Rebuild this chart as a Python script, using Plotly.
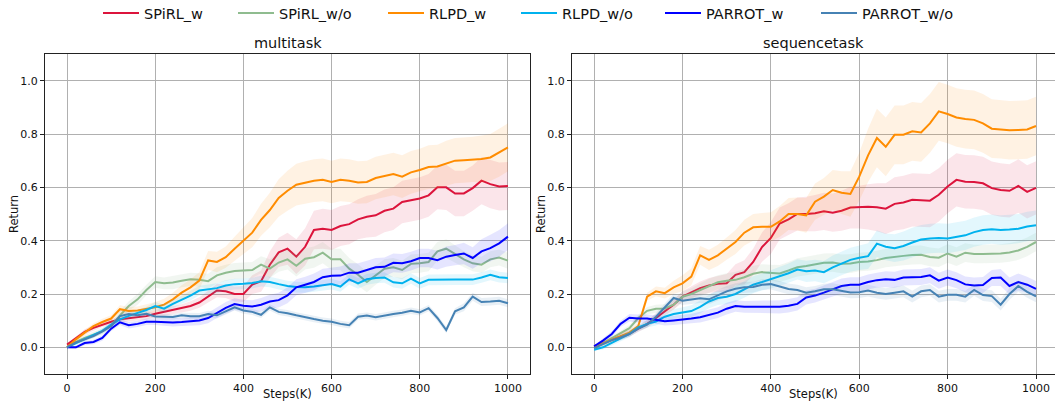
import plotly.graph_objects as go

steps = list(range(0, 1001, 20))

# ---------------- multitask ----------------
spirl_w_m = [0.01, 0.033, 0.058, 0.073, 0.086, 0.096, 0.105, 0.109, 0.112, 0.117,
             0.126, 0.133, 0.139, 0.146, 0.155, 0.168, 0.19, 0.213, 0.21, 0.2,
             0.2, 0.235, 0.248, 0.31, 0.356, 0.37, 0.34, 0.377, 0.44, 0.445,
             0.44, 0.455, 0.462, 0.48, 0.49, 0.495, 0.512, 0.52, 0.545, 0.552,
             0.558, 0.57, 0.6, 0.6, 0.577, 0.577, 0.597, 0.625, 0.612, 0.603,
             0.605]
spirl_wo_m = [0.0, 0.02, 0.035, 0.048, 0.06, 0.08, 0.12, 0.155, 0.18, 0.215,
              0.245, 0.24, 0.243, 0.25, 0.255, 0.253, 0.248, 0.27, 0.28, 0.286,
              0.287, 0.29, 0.31, 0.295, 0.318, 0.33, 0.306, 0.332, 0.338, 0.355,
              0.33, 0.33, 0.295, 0.272, 0.245, 0.27, 0.295, 0.3, 0.29, 0.313,
              0.315, 0.32, 0.36, 0.37, 0.35, 0.33, 0.315, 0.31, 0.33, 0.337,
              0.325]
rlpd_w_m = [0.0, 0.03, 0.055, 0.08, 0.095, 0.108, 0.143, 0.136, 0.138, 0.143,
            0.15, 0.16, 0.18, 0.205, 0.225, 0.25, 0.326, 0.32, 0.338, 0.37,
            0.4, 0.43, 0.478, 0.515, 0.56, 0.587, 0.61, 0.618, 0.625, 0.628,
            0.62, 0.628, 0.625, 0.618, 0.62, 0.635, 0.642, 0.65, 0.64, 0.656,
            0.665, 0.676, 0.678, 0.69, 0.7, 0.702, 0.705, 0.706, 0.712, 0.73,
            0.75]
rlpd_wo_m = [0.0, 0.015, 0.03, 0.045, 0.062, 0.085, 0.105, 0.118, 0.13, 0.14,
             0.155, 0.145, 0.163, 0.178, 0.194, 0.213, 0.218, 0.222, 0.232, 0.237,
             0.238, 0.241, 0.248, 0.245, 0.237, 0.23, 0.226, 0.225, 0.228, 0.233,
             0.237, 0.228, 0.255, 0.24, 0.255, 0.26, 0.262, 0.244, 0.24, 0.258,
             0.24, 0.253, 0.254, 0.254, 0.254, 0.254, 0.254, 0.262, 0.272, 0.263,
             0.26]
parrot_w_m = [0.0, 0.0, 0.016, 0.02, 0.035, 0.07, 0.094, 0.083, 0.088, 0.096,
              0.096, 0.095, 0.093, 0.095, 0.098, 0.101, 0.11, 0.13, 0.148, 0.162,
              0.156, 0.153, 0.16, 0.172, 0.177, 0.195, 0.225, 0.235, 0.245, 0.263,
              0.268, 0.269, 0.28, 0.28, 0.29, 0.3, 0.302, 0.317, 0.315, 0.323,
              0.335, 0.335, 0.327, 0.34, 0.346, 0.352, 0.335, 0.36, 0.372, 0.39,
              0.415]
parrot_wo_m = [0.0, 0.018, 0.03, 0.042, 0.06, 0.08, 0.117, 0.125, 0.12, 0.126,
               0.116, 0.114, 0.114, 0.12, 0.117, 0.117, 0.125, 0.12, 0.135, 0.15,
               0.138, 0.133, 0.122, 0.15, 0.133, 0.128, 0.12, 0.112, 0.106, 0.1,
               0.096, 0.088, 0.083, 0.115, 0.119, 0.113, 0.12, 0.125, 0.13, 0.137,
               0.131, 0.147, 0.11, 0.065, 0.135, 0.15, 0.19, 0.17, 0.172, 0.175,
               0.165]

sd_spirl_w_m = [0.003, 0.008, 0.01, 0.01, 0.01, 0.01, 0.012, 0.012, 0.012, 0.013,
                0.014, 0.015, 0.015, 0.016, 0.018, 0.02, 0.022, 0.025, 0.025, 0.028,
                0.03, 0.035, 0.04, 0.05, 0.055, 0.06, 0.065, 0.07, 0.072, 0.075,
                0.075, 0.075, 0.075, 0.075, 0.078, 0.08, 0.08, 0.08, 0.08, 0.08,
                0.08, 0.08, 0.082, 0.085, 0.085, 0.085, 0.085, 0.088, 0.09, 0.09,
                0.09]
sd_spirl_wo_m = [0.003, 0.008, 0.01, 0.01, 0.012, 0.012, 0.015, 0.018, 0.02, 0.02,
                 0.022, 0.022, 0.025, 0.025, 0.025, 0.025, 0.028, 0.03, 0.03, 0.03,
                 0.03, 0.03, 0.032, 0.035, 0.035, 0.038, 0.04, 0.04, 0.04, 0.04,
                 0.04, 0.04, 0.04, 0.04, 0.038, 0.035, 0.035, 0.035, 0.035, 0.035,
                 0.035, 0.035, 0.035, 0.035, 0.033, 0.03, 0.03, 0.03, 0.03, 0.03,
                 0.03]
sd_rlpd_w_m = [0.003, 0.008, 0.01, 0.01, 0.012, 0.012, 0.015, 0.015, 0.015, 0.018,
               0.02, 0.022, 0.025, 0.028, 0.03, 0.032, 0.035, 0.038, 0.04, 0.045,
               0.05, 0.055, 0.06, 0.065, 0.07, 0.075, 0.078, 0.08, 0.08, 0.08,
               0.08, 0.08, 0.08, 0.08, 0.08, 0.08, 0.08, 0.08, 0.08, 0.08,
               0.08, 0.082, 0.082, 0.085, 0.085, 0.085, 0.085, 0.088, 0.088, 0.09,
               0.09]
sd_rlpd_wo_m = [0.003, 0.006, 0.008, 0.008, 0.01, 0.01, 0.01, 0.012, 0.012, 0.012,
                0.015, 0.015, 0.015, 0.015, 0.018, 0.018, 0.018, 0.018, 0.02, 0.02,
                0.02, 0.02, 0.02, 0.02, 0.02, 0.02, 0.02, 0.02, 0.02, 0.02,
                0.02, 0.02, 0.02, 0.02, 0.02, 0.02, 0.02, 0.02, 0.02, 0.02,
                0.02, 0.02, 0.02, 0.02, 0.02, 0.02, 0.02, 0.02, 0.02, 0.02,
                0.02]
sd_parrot_w_m = [0.003, 0.006, 0.008, 0.008, 0.01, 0.01, 0.01, 0.012, 0.012, 0.012,
                 0.012, 0.014, 0.015, 0.015, 0.016, 0.018, 0.02, 0.02, 0.022, 0.022,
                 0.022, 0.024, 0.025, 0.025, 0.028, 0.03, 0.03, 0.03, 0.032, 0.032,
                 0.032, 0.034, 0.035, 0.035, 0.035, 0.035, 0.035, 0.035, 0.035, 0.035,
                 0.035, 0.035, 0.035, 0.038, 0.038, 0.04, 0.04, 0.045, 0.05, 0.05,
                 0.05]
sd_parrot_wo_m = [0.003, 0.005, 0.006, 0.008, 0.008, 0.01, 0.01, 0.01, 0.01, 0.01,
                  0.01, 0.01, 0.01, 0.01, 0.012, 0.012, 0.012, 0.012, 0.012, 0.012,
                  0.012, 0.012, 0.012, 0.012, 0.012, 0.012, 0.012, 0.012, 0.012, 0.012,
                  0.012, 0.012, 0.012, 0.012, 0.012, 0.012, 0.012, 0.012, 0.012, 0.012,
                  0.012, 0.012, 0.012, 0.012, 0.012, 0.015, 0.015, 0.015, 0.015, 0.015,
                  0.015]

# ---------------- sequencetask ----------------
spirl_w_s = [0.004, 0.016, 0.028, 0.04, 0.052, 0.07, 0.088, 0.11, 0.135, 0.16,
             0.19, 0.205, 0.222, 0.232, 0.238, 0.24, 0.272, 0.282, 0.32, 0.376,
             0.41, 0.464, 0.48, 0.5, 0.5, 0.503, 0.51, 0.505, 0.512, 0.524,
             0.526, 0.527, 0.525, 0.52, 0.538, 0.543, 0.553, 0.552, 0.55, 0.572,
             0.603, 0.628, 0.621, 0.62, 0.615, 0.597, 0.59, 0.587, 0.605, 0.583,
             0.598]
spirl_wo_s = [-0.003, 0.015, 0.035, 0.052, 0.072, 0.11, 0.137, 0.145, 0.146, 0.16,
              0.19, 0.2, 0.215, 0.232, 0.244, 0.25, 0.253, 0.263, 0.276, 0.282,
              0.28, 0.277, 0.288, 0.3, 0.305, 0.311, 0.317, 0.318, 0.313, 0.314,
              0.32, 0.322, 0.327, 0.335, 0.34, 0.343, 0.346, 0.347, 0.339, 0.336,
              0.352, 0.34, 0.355, 0.35, 0.35, 0.35, 0.352, 0.356, 0.363, 0.377,
              0.395]
rlpd_w_s = [0.0, 0.015, 0.03, 0.042, 0.055, 0.08, 0.19, 0.21, 0.203, 0.225,
            0.24, 0.265, 0.345, 0.328, 0.345, 0.37, 0.395, 0.43, 0.45, 0.452,
            0.452, 0.472, 0.5, 0.5, 0.495, 0.546, 0.565, 0.59, 0.58, 0.575,
            0.64, 0.72, 0.785, 0.752, 0.797, 0.797, 0.81, 0.806, 0.84, 0.885,
            0.875, 0.862, 0.856, 0.853, 0.84, 0.82, 0.818, 0.814, 0.815, 0.817,
            0.83]
rlpd_wo_s = [-0.009, 0.0, 0.017, 0.033, 0.05, 0.075, 0.088, 0.097, 0.115, 0.125,
             0.13, 0.136, 0.152, 0.172, 0.185, 0.19, 0.2, 0.217, 0.235, 0.245,
             0.256, 0.265, 0.278, 0.292, 0.285, 0.288, 0.282, 0.3, 0.315, 0.328,
             0.336, 0.342, 0.389, 0.377, 0.372, 0.38, 0.393, 0.404, 0.408, 0.41,
             0.408, 0.415, 0.42, 0.432, 0.44, 0.443, 0.44, 0.442, 0.445, 0.453,
             0.458]
parrot_w_s = [0.004, 0.025, 0.05, 0.088, 0.111, 0.108, 0.108, 0.104, 0.098, 0.101,
              0.104, 0.108, 0.113, 0.122, 0.13, 0.145, 0.155, 0.152, 0.152, 0.152,
              0.152, 0.152, 0.156, 0.163, 0.187, 0.194, 0.205, 0.217, 0.23, 0.235,
              0.235, 0.245, 0.252, 0.255, 0.253, 0.262, 0.263, 0.264, 0.27, 0.25,
              0.262, 0.252, 0.236, 0.232, 0.234, 0.26, 0.262, 0.23, 0.245, 0.235,
              0.219]
parrot_wo_s = [-0.003, 0.012, 0.027, 0.037, 0.05, 0.07, 0.085, 0.115, 0.15, 0.185,
               0.175, 0.18, 0.184, 0.18, 0.196, 0.21, 0.22, 0.225, 0.226, 0.235,
               0.237, 0.228, 0.219, 0.215, 0.205, 0.21, 0.218, 0.218, 0.212, 0.206,
               0.207, 0.213, 0.205, 0.2, 0.205, 0.21, 0.19, 0.21, 0.215, 0.19,
               0.197, 0.197, 0.19, 0.215, 0.196, 0.192, 0.16, 0.2, 0.23, 0.208,
               0.191]

sd_spirl_w_s = [0.003, 0.008, 0.01, 0.01, 0.012, 0.012, 0.014, 0.015, 0.016, 0.018,
                0.02, 0.022, 0.025, 0.028, 0.03, 0.035, 0.04, 0.045, 0.05, 0.055,
                0.06, 0.06, 0.06, 0.062, 0.065, 0.068, 0.07, 0.072, 0.075, 0.078,
                0.08, 0.085, 0.09, 0.095, 0.1, 0.1, 0.1, 0.1, 0.1, 0.1,
                0.1, 0.1, 0.1, 0.1, 0.1, 0.1, 0.1, 0.1, 0.1, 0.1,
                0.1]
sd_spirl_wo_s = [0.003, 0.008, 0.01, 0.01, 0.012, 0.012, 0.014, 0.015, 0.016, 0.018,
                 0.02, 0.022, 0.024, 0.025, 0.026, 0.028, 0.03, 0.03, 0.03, 0.03,
                 0.03, 0.032, 0.032, 0.034, 0.035, 0.035, 0.035, 0.035, 0.035, 0.035,
                 0.035, 0.035, 0.035, 0.035, 0.035, 0.035, 0.035, 0.035, 0.035, 0.035,
                 0.035, 0.035, 0.035, 0.035, 0.035, 0.035, 0.035, 0.035, 0.035, 0.035,
                 0.035]
sd_rlpd_w_s = [0.003, 0.008, 0.01, 0.01, 0.012, 0.012, 0.015, 0.018, 0.02, 0.025,
               0.03, 0.032, 0.035, 0.038, 0.04, 0.042, 0.045, 0.048, 0.05, 0.052,
               0.055, 0.058, 0.06, 0.062, 0.065, 0.068, 0.07, 0.075, 0.08, 0.085,
               0.09, 0.1, 0.11, 0.11, 0.11, 0.11, 0.11, 0.11, 0.11, 0.11,
               0.11, 0.11, 0.11, 0.11, 0.11, 0.11, 0.11, 0.11, 0.11, 0.11,
               0.11]
sd_rlpd_wo_s = [0.003, 0.008, 0.01, 0.01, 0.012, 0.012, 0.014, 0.015, 0.016, 0.018,
                0.02, 0.022, 0.024, 0.025, 0.026, 0.028, 0.03, 0.03, 0.032, 0.032,
                0.034, 0.035, 0.036, 0.038, 0.04, 0.04, 0.042, 0.044, 0.045, 0.045,
                0.046, 0.048, 0.05, 0.05, 0.052, 0.054, 0.055, 0.055, 0.055, 0.055,
                0.055, 0.055, 0.055, 0.055, 0.055, 0.055, 0.055, 0.055, 0.055, 0.055,
                0.055]
sd_parrot_w_s = [0.003, 0.008, 0.01, 0.012, 0.014, 0.015, 0.015, 0.016, 0.016, 0.017,
                 0.018, 0.018, 0.02, 0.02, 0.02, 0.022, 0.022, 0.022, 0.022, 0.024,
                 0.024, 0.025, 0.025, 0.025, 0.026, 0.026, 0.026, 0.028, 0.028, 0.028,
                 0.028, 0.028, 0.028, 0.03, 0.03, 0.03, 0.03, 0.03, 0.03, 0.03,
                 0.03, 0.03, 0.03, 0.03, 0.03, 0.03, 0.032, 0.032, 0.032, 0.03,
                 0.03]
sd_parrot_wo_s = [0.003, 0.006, 0.008, 0.01, 0.01, 0.012, 0.012, 0.014, 0.015, 0.016,
                  0.016, 0.018, 0.018, 0.018, 0.02, 0.02, 0.02, 0.02, 0.02, 0.02,
                  0.02, 0.02, 0.02, 0.02, 0.02, 0.02, 0.02, 0.022, 0.022, 0.022,
                  0.022, 0.022, 0.022, 0.022, 0.022, 0.022, 0.022, 0.022, 0.022, 0.022,
                  0.022, 0.022, 0.022, 0.022, 0.022, 0.022, 0.022, 0.022, 0.022, 0.022,
                  0.022]

names = ["SPiRL_w", "SPiRL_w/o", "RLPD_w", "RLPD_w/o", "PARROT_w", "PARROT_w/o"]
colors = ["#DC143C", "#8FBC8F", "#FF8C00", "#00B2EE", "#0000FF", "#4682B4"]
fills = ["rgba(220,20,60,0.11)", "rgba(143,188,143,0.13)", "rgba(255,140,0,0.11)",
         "rgba(0,178,238,0.11)", "rgba(0,0,255,0.10)", "rgba(70,130,180,0.12)"]
legend_left_px = [104, 239, 389, 522, 666, 822]

multi_means = [spirl_w_m, spirl_wo_m, rlpd_w_m, rlpd_wo_m, parrot_w_m, parrot_wo_m]
multi_sds = [sd_spirl_w_m, sd_spirl_wo_m, sd_rlpd_w_m, sd_rlpd_wo_m, sd_parrot_w_m, sd_parrot_wo_m]
seq_means = [spirl_w_s, spirl_wo_s, rlpd_w_s, rlpd_wo_s, parrot_w_s, parrot_wo_s]
seq_sds = [sd_spirl_w_s, sd_spirl_wo_s, sd_rlpd_w_s, sd_rlpd_wo_s, sd_parrot_w_s, sd_parrot_wo_s]

W, H = 1055, 402
ML, MR, MT, MB = 45, 0, 54, 28
PW, PH = W - ML - MR, H - MT - MB

def px_x(p):
    return (p - ML) / PW

def px_y(p):
    return (H - MB - p) / PH

fig = go.Figure()
legend_ids = ["legend", "legend2", "legend3", "legend4", "legend5", "legend6"]

def add_panel(means, sds, xa, ya, show_legend):
    for i, (name, col, fc, m, s) in enumerate(zip(names, colors, fills, means, sds)):
        upper = [a + b for a, b in zip(m, s)]
        lower = [a - b for a, b in zip(m, s)]
        fig.add_trace(go.Scatter(x=steps, y=upper, xaxis=xa, yaxis=ya, mode="lines",
                                 line=dict(width=0, color=fc), showlegend=False,
                                 hoverinfo="skip"))
        fig.add_trace(go.Scatter(x=steps, y=lower, xaxis=xa, yaxis=ya, mode="lines",
                                 line=dict(width=0, color=fc), fill="tonexty",
                                 fillcolor=fc, showlegend=False, hoverinfo="skip"))
        fig.add_trace(go.Scatter(x=steps, y=m, xaxis=xa, yaxis=ya, mode="lines",
                                 name=name, line=dict(width=2, color=col),
                                 legendgroup=name, showlegend=show_legend,
                                 legend=legend_ids[i]))

add_panel(multi_means, multi_sds, "x", "y", True)
add_panel(seq_means, seq_sds, "x2", "y2", False)

font_family = "DejaVu Sans"
txt = "#111111"
axis_common = dict(showgrid=True, gridcolor="#b0b0b0", gridwidth=1,
                   showline=True, linecolor="#222222", linewidth=1, mirror=True,
                   ticks="outside", ticklen=4, tickcolor="#222222", zeroline=False,
                   tickfont=dict(family=font_family, size=11, color=txt))
xcommon = dict(axis_common, tickvals=[0, 200, 400, 600, 800, 1000])
ycommon = dict(axis_common, range=[-0.1, 1.1],
               tickvals=[0.0, 0.2, 0.4, 0.6, 0.8, 1.0], tickformat=".1f")

d1 = px_x(530)
d2 = px_x(572)

layout_legends = {}
for i, lid in enumerate(legend_ids):
    layout_legends[lid] = dict(orientation="h", x=px_x(legend_left_px[i] - 6), xanchor="left",
                               y=px_y(13), yanchor="middle", itemwidth=36,
                               font=dict(family=font_family, size=14.5, color=txt),
                               bgcolor="rgba(0,0,0,0)", borderwidth=0)

annotations = [
    dict(text="multitask", x=d1 / 2, y=px_y(43), xref="paper", yref="paper",
         xanchor="center", yanchor="middle", showarrow=False,
         font=dict(family=font_family, size=14.5, color=txt)),
    dict(text="sequencetask", x=(d2 + 1) / 2, y=px_y(43), xref="paper", yref="paper",
         xanchor="center", yanchor="middle", showarrow=False,
         font=dict(family=font_family, size=14.5, color=txt)),
    dict(text="Steps(K)", x=d1 / 2, y=px_y(394), xref="paper", yref="paper",
         xanchor="center", yanchor="middle", showarrow=False,
         font=dict(family=font_family, size=11.5, color=txt)),
    dict(text="Steps(K)", x=(d2 + 1) / 2, y=px_y(394), xref="paper", yref="paper",
         xanchor="center", yanchor="middle", showarrow=False,
         font=dict(family=font_family, size=11.5, color=txt)),
    dict(text="Return", x=px_x(14), y=px_y(214), xref="paper", yref="paper",
         xanchor="center", yanchor="middle", showarrow=False, textangle=-90,
         font=dict(family=font_family, size=11.5, color=txt)),
    dict(text="Return", x=px_x(541), y=px_y(214), xref="paper", yref="paper",
         xanchor="center", yanchor="middle", showarrow=False, textangle=-90,
         font=dict(family=font_family, size=11.5, color=txt)),
]

fig.update_layout(
    width=W, height=H,
    margin=dict(l=ML, r=MR, t=MT, b=MB, autoexpand=False),
    paper_bgcolor="white", plot_bgcolor="white",
    xaxis=dict(xcommon, domain=[0, d1], range=[-50, 1050], anchor="y"),
    yaxis=dict(ycommon, domain=[0, 1], anchor="x"),
    xaxis2=dict(xcommon, domain=[d2, 1], range=[-50, 1043], anchor="y2"),
    yaxis2=dict(ycommon, domain=[0, 1], anchor="x2"),
    showlegend=True,
    annotations=annotations,
    **layout_legends,
)

fig.write_html(
    "out.html",
    config={"displayModeBar": False},
    post_script="document.body.style.margin='0';document.body.style.padding='0';"
                "document.documentElement.style.overflow='hidden';",
)
